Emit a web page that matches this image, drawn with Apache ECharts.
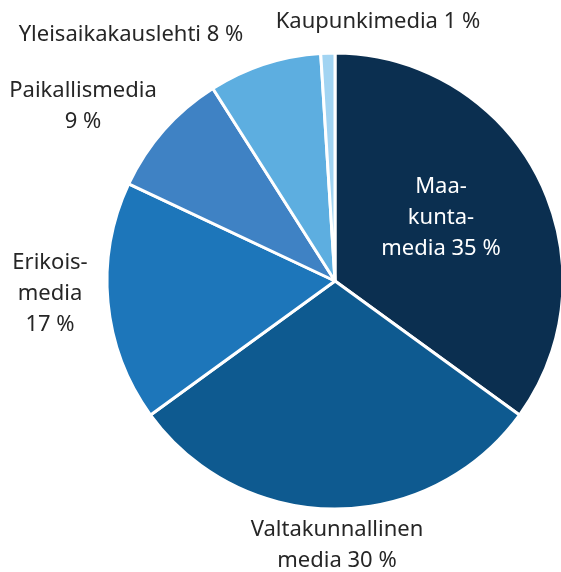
<!DOCTYPE html>
<html>
<head>
<meta charset="utf-8">
<script src="https://cdn.jsdelivr.net/npm/echarts@6/dist/echarts.min.js"></script>
<style>
  html, body { margin: 0; padding: 0; background: #fff; }
  #main { width: 561px; height: 572px; }
</style>
</head>
<body>
<div id="main"></div>
<script>
// osuudet (%)
var names = ["Maakuntamedia", "Valtakunnallinen media", "Erikoismedia", "Paikallismedia", "Yleisaikakauslehti", "Kaupunkimedia"];
var values = [35, 30, 17, 9, 8, 1];
// tunnisteiden rivitys
var labelTexts = ["Maa-\nkunta-\nmedia", "Valtakunnallinen\nmedia", "Erikois-\nmedia\n", "Paikallismedia\n", "Yleisaikakauslehti", "Kaupunkimedia"];
var colors = ["#0b2f50", "#0e5a90", "#1d76ba", "#3f82c4", "#5daee0", "#a2d4f2"];

// tunnisteiden paikat (keskipiste)
var labelPos = [[441, 218], [337, 545], [50, 294], [83, 106], [131, 35], [378, 22]];

var chart = echarts.init(document.getElementById("main"));

var option = {
  animation: false,
  color: colors,
  series: [
    {
      type: "pie",
      center: [335, 281],
      radius: 228,
      startAngle: 90,
      clockwise: true,
      avoidLabelOverlap: false,
      itemStyle: {
        borderColor: "#fff",
        borderWidth: 3
      },
      labelLine: { show: false },
      label: {
        show: true,
        position: "outside",
        fontFamily: "Noto Sans",
        fontSize: 22,
        lineHeight: 31,
        color: "#262626",
        align: "center",
        overflow: "none",
        formatter: function (p) {
          var t = labelTexts[p.dataIndex];
          var sep = t.charAt(t.length - 1) == "\n" ? "" : " ";
          return t + sep + p.value + " %";
        }
      },
      labelLayout: function (p) {
        var pos = labelPos[p.dataIndex];
        return { x: pos[0], y: pos[1], align: "center", verticalAlign: "middle", hideOverlap: false };
      },
      data: values.map(function (v, i) {
        var d = { name: names[i], value: v };
        if (i == 0) d.label = { color: "#fff" };
        return d;
      })
    }
  ]
};

chart.setOption(option);
</script>
</body>
</html>
